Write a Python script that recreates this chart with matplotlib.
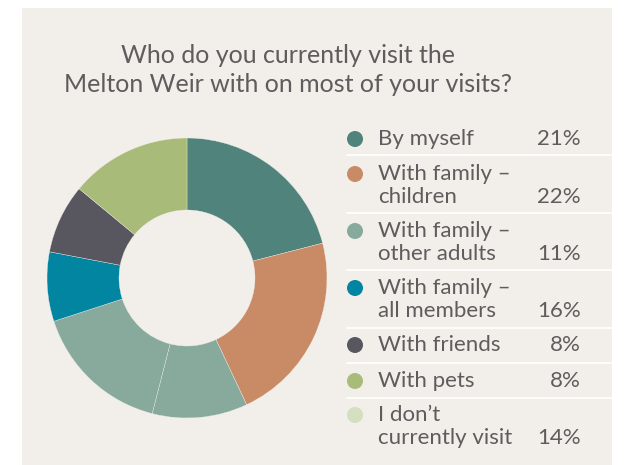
import matplotlib
matplotlib.use("Agg")
import matplotlib.pyplot as plt
from matplotlib.patches import Circle, Rectangle

plt.rcParams["font.family"] = ["Lato", "DejaVu Sans"]

title = "Who do you currently visit the\nMelton Weir with on most of your visits?"

categories = [
    "By myself",
    "With family –\nchildren",
    "With family –\nother adults",
    "With family –\nall members",
    "With friends",
    "With pets",
    "I don’t\ncurrently visit",
]
shares = [21, 22, 11, 16, 8, 8, 14]

# legend dot colours
legend_colors = ["#50837b", "#c98a66", "#87aa9d", "#0285a0", "#58575f", "#a9bb79", "#d3dfbe"]
# colours as used on the ring
ring_colors = ["#50837b", "#c98a66", "#87aa9d", "#87aa9d", "#0285a0", "#58575f", "#a9bb79"]

bg = "#f2efea"
text_color = "#5d5d5d"

W, H = 627, 465
fig = plt.figure(figsize=(W / 100, H / 100), dpi=100)
fig.patch.set_facecolor("white")

# overlay axes in pixel units (y down)
ax = fig.add_axes([0, 0, 1, 1])
ax.set_xlim(0, W)
ax.set_ylim(H, 0)
ax.axis("off")
ax.add_patch(Rectangle((22, 8), 590, H - 8, facecolor=bg, edgecolor="none", zorder=0))

ax.text(288, 70, title, ha="center", va="center", fontsize=18, color=text_color,
        linespacing=1.3)

# donut
cx, cy, r = 187, 278, 140
pax = fig.add_axes([(cx - r) / W, (H - cy - r) / H, 2 * r / W, 2 * r / H])
pax.pie(shares, colors=ring_colors, startangle=90, counterclock=False, radius=1,
        wedgeprops=dict(width=1 - 68 / 140, edgecolor=bg, linewidth=0.25))
pax.set_xlim(-1, 1)
pax.set_ylim(-1, 1)
pax.set_aspect("equal")
pax.axis("off")

# legend rows
row_tops = [139, 174, 231, 288, 345, 381, 415]
seps = [155, 213, 270, 328, 363, 398]
for y in seps:
    ax.plot([347, 612], [y, y], color="white", lw=1.2, zorder=1)

for lab, val, col, y in zip(categories, shares, legend_colors, row_tops):
    ax.add_patch(Circle((355, y), 8, facecolor=col, edgecolor="none", zorder=2))
    lines = lab.split("\n")
    for i, line in enumerate(lines):
        ax.text(378, y + i * 23, line, ha="left", va="center", fontsize=16,
                color=text_color)
    ax.text(581, y + (len(lines) - 1) * 23, f"{val}%", ha="right", va="center",
            fontsize=16, color=text_color)

fig.savefig("out.png", dpi=100, facecolor=fig.get_facecolor())
